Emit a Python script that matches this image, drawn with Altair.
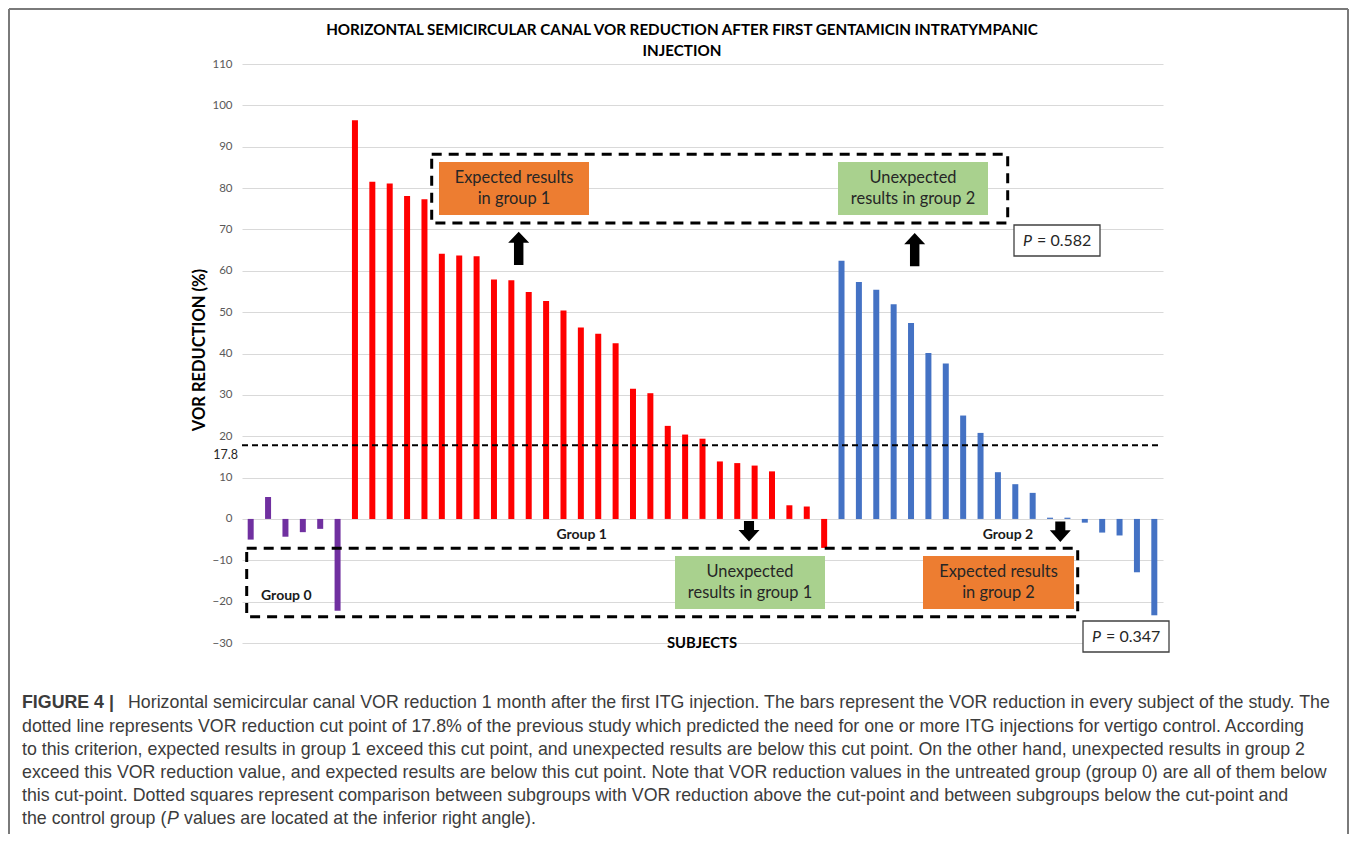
import altair as alt
import pandas as pd

# ---------------- data ----------------
group0_values = [-5.0, 5.3, -4.3, -3.2, -2.4, -22.2]
group1_values = [96.4, 81.5, 81.1, 78.1, 77.3, 64.1, 63.7, 63.5, 57.9, 57.7,
                 54.9, 52.7, 50.4, 46.3, 44.8, 42.5, 31.5, 30.4, 22.5, 20.4,
                 19.4, 13.9, 13.5, 12.9, 11.5, 3.3, 3.0, -7.0]
group2_values = [62.4, 57.3, 55.4, 51.9, 47.4, 40.1, 37.6, 25.0, 20.8, 11.3,
                 8.4, 6.3, 0.3, 0.3, -0.9, -3.3, -4.0, -12.9, -23.3]
group_labels = ["Group 0", "Group 1", "Group 2"]
group_colors = ["#7030A0", "#FF0000", "#4472C4"]
cut_point = 17.8
cut_label = "17.8"
y_ticks = list(range(-30, 111, 10))

title_lines = ["HORIZONTAL SEMICIRCULAR CANAL VOR REDUCTION AFTER FIRST GENTAMICIN INTRATYMPANIC",
               "INJECTION"]
x_title = "SUBJECTS"
y_title = "VOR REDUCTION (%)"
box_texts = [["Expected results", "in group 1"],
             ["Unexpected", "results in group 2"],
             ["Unexpected", "results in group 1"],
             ["Expected results", "in group 2"]]
box_colors = ["#ED7D31", "#A9D18E", "#A9D18E", "#ED7D31"]
p_letter = "P"
p_values = ["= 0.582", "= 0.347"]

caption_bold = "FIGURE 4 |"
caption_lines = [
    "Horizontal semicircular canal VOR reduction 1 month after the first ITG injection. The bars represent the VOR reduction in every subject of the study. The",
    "dotted line represents VOR reduction cut point of 17.8% of the previous study which predicted the need for one or more ITG injections for vertigo control. According",
    "to this criterion, expected results in group 1 exceed this cut point, and unexpected results are below this cut point. On the other hand, unexpected results in group 2",
    "exceed this VOR reduction value, and expected results are below this cut point. Note that VOR reduction values in the untreated group (group 0) are all of them below",
    "this cut-point. Dotted squares represent comparison between subgroups with VOR reduction above the cut-point and between subgroups below the cut-point and",
    "the control group (",
]
caption_tail = "values are located at the inferior right angle)."

# ---------------- layout ----------------
W, H = 921, 579
Y_MIN, Y_MAX = -30, 110
CHART_FONT = "Lato"
CAP_FONT = "Liberation Sans"

vals = group0_values + group1_values + group2_values
N = len(vals)
cols = ([group_colors[0]] * len(group0_values) + [group_colors[1]] * len(group1_values)
        + [group_colors[2]] * len(group2_values))
bars_df = pd.DataFrame({"subject": list(range(1, N + 1)), "value": vals, "color": cols})

xs = alt.Scale(domain=[0.5, N + 0.5], nice=False, zero=False, padding=0)
ys = alt.Scale(domain=[Y_MIN, Y_MAX], nice=False, zero=False, padding=0)
yaxis = alt.Axis(values=y_ticks, title=None, ticks=False, domain=False, grid=True,
                 gridColor="#d9d9d9", gridWidth=1, labelColor="#595959",
                 labelFont=CHART_FONT, labelFontSize=11.5, labelPadding=10)


# annotation placement helpers: plot-relative pixels -> data units of the shared scales
def dx(p):
    return 0.5 + p * N / W


def dy(p):
    return Y_MAX - p * (Y_MAX - Y_MIN) / H


def X(f="x"):
    return alt.X(f"{f}:Q", scale=xs, axis=None)


def Y(f="y"):
    return alt.Y(f"{f}:Q", scale=ys, axis=yaxis)


bars = alt.Chart(bars_df).mark_bar(size=6).encode(
    x=X("subject"),
    y=Y("value"),
    y2=alt.datum(0),
    color=alt.Color("color:N", scale=None),
)

cut = alt.Chart(pd.DataFrame({"x": [0.5], "x2": [N + 0.35], "y": [cut_point]})).mark_rule(
    color="black", strokeWidth=2, strokeDash=[6, 4]).encode(x=X(), x2="x2:Q", y=Y())


def text_layer(rows, **kw):
    df = pd.DataFrame([[dx(a), dy(b), t] for a, b, t in rows], columns=["x", "y", "t"])
    return alt.Chart(df).mark_text(**kw).encode(x=X(), y=Y(), text="t:N")


def rect_layer(rows, **kw):
    df = pd.DataFrame([[dx(a), dy(b), dx(c), dy(d)] for a, b, c, d in rows],
                      columns=["x", "y", "x2", "y2"])
    return alt.Chart(df).mark_rect(**kw).encode(x=X(), y=Y(), x2="x2:Q", y2="y2:Q")


# dashed comparison boxes
dashed = rect_layer([[189.7, 90.3, 765.7, 159.0], [4.7, 484.3, 835.7, 552.7]],
                    fill="transparent", stroke="black", strokeWidth=3, strokeDash=[10, 7])

# coloured label boxes
cbox_pos = [[197, 98, 347, 151], [596, 98, 746, 151], [433, 492, 583, 545], [681, 492, 832, 545]]
cbox_df = pd.DataFrame([[dx(a), dy(b), dx(c), dy(d)] for a, b, c, d in cbox_pos],
                       columns=["x", "y", "x2", "y2"])
cbox_df["fill"] = box_colors
cboxes = alt.Chart(cbox_df).mark_rect().encode(
    x=X(), y=Y(), x2="x2:Q", y2="y2:Q", color=alt.Color("fill:N", scale=None))

box_rows = []
for (x1, y1, x2, y2), lines in zip(cbox_pos, box_texts):
    cx = (x1 + x2) / 2
    box_rows.append([cx, y1 + 16, lines[0]])
    box_rows.append([cx, y1 + 37, lines[1]])
box_text = text_layer(box_rows, font=CHART_FONT, fontSize=16.4, color="#262626")

# P value boxes
pboxes = rect_layer([[772, 161, 858, 192], [841, 557, 927, 588]],
                    fill="white", stroke="#404040", strokeWidth=1.3)
p_it = text_layer([[781, 176.5, p_letter], [850, 572.5, p_letter]],
                  font=CHART_FONT, fontSize=16, fontStyle="italic", align="left", color="#262626")
p_txt = text_layer([[795, 176.5, p_values[0]], [864, 572.5, p_values[1]]],
                   font=CHART_FONT, fontSize=16, align="left", color="#262626")

# arrows
up_path = "M0,-1.58L1,-0.53L0.45,-0.53L0.45,1.58L-0.45,1.58L-0.45,-0.53L-1,-0.53Z"
down_path = "M0,0.98L1,-0.13L0.48,-0.13L0.48,-0.98L-0.48,-0.98L-0.48,-0.13L-1,-0.13Z"
up_df = pd.DataFrame({"x": [dx(276.7), dx(672.7)], "y": [dy(184.3), dy(185.7)]})
down_df = pd.DataFrame({"x": [dx(507.0), dx(818.3)], "y": [dy(467.3), dy(467.7)]})
up_arrows = alt.Chart(up_df).mark_point(
    shape=up_path, filled=True, size=441, color="black", opacity=1, strokeWidth=0).encode(
    x=X(), y=Y())
down_arrows = alt.Chart(down_df).mark_point(
    shape=down_path, filled=True, size=441, color="black", opacity=1, strokeWidth=0).encode(
    x=X(), y=Y())

# group labels
groups = text_layer([[44.3, 532, group_labels[0]], [339.7, 471, group_labels[1]],
                     [766, 471, group_labels[2]]],
                    font=CHART_FONT, fontSize=14, fontWeight="bold", color="#1a1a1a")

cutlab = text_layer([[-4, 391, cut_label]], font=CHART_FONT, fontSize=12.5, align="right",
                    color="#262626")

title = text_layer([[440, -34, title_lines[0]], [440, -13, title_lines[1]]],
                   font=CHART_FONT, fontSize=15.2, fontWeight="bold", color="black")
xtitle = text_layer([[460, 580, x_title]], font=CHART_FONT, fontSize=14.8, fontWeight="bold",
                    color="black")
ytitle = text_layer([[-42, 286, y_title]], font=CHART_FONT, fontSize=16.5, fontWeight="bold",
                    color="black", angle=270)

# caption
cap_y = [639, 663, 686, 709, 732, 755]
cap_rows = [[-114, cap_y[0], caption_lines[0]]]
for i in range(1, 6):
    cap_rows.append([-220, cap_y[i], caption_lines[i]])
cap_rows.append([-58, cap_y[5], caption_tail])
cap = text_layer(cap_rows, font=CAP_FONT, fontSize=17.8, align="left", color="#3c3c3c")
cap_b = text_layer([[-220, cap_y[0], caption_bold]], font=CAP_FONT, fontSize=17.8,
                   fontWeight="bold", align="left", color="#3c3c3c")
cap_i = text_layer([[-75, cap_y[5], p_letter]], font=CAP_FONT, fontSize=17.8,
                   fontStyle="italic", align="left", color="#3c3c3c")

# outer frame
frame_rows = [[-233, -55, -233, 770], [-233, -55, 1106, -55], [1106, -55, 1106, 770]]
frame_df = pd.DataFrame([[dx(a), dy(b), dx(c), dy(d)] for a, b, c, d in frame_rows],
                        columns=["x", "y", "x2", "y2"])
frame = alt.Chart(frame_df).mark_rule(color="#7a7a7a", strokeWidth=2).encode(
    x=X(), y=Y(), x2="x2:Q", y2="y2:Q")

chart = alt.layer(
    bars, cut, dashed, cboxes, box_text, pboxes, p_it, p_txt, up_arrows, down_arrows,
    groups, cutlab, title, xtitle, ytitle, cap, cap_b, cap_i, frame
).properties(
    width=W, height=H,
    padding={"left": 234, "top": 56, "right": 186, "bottom": 191},
    autosize=alt.AutoSizeParams(type="none"),
    background="white",
).configure_view(strokeWidth=0)

chart.save("out.html", embed_options={"renderer": "svg", "actions": False})
